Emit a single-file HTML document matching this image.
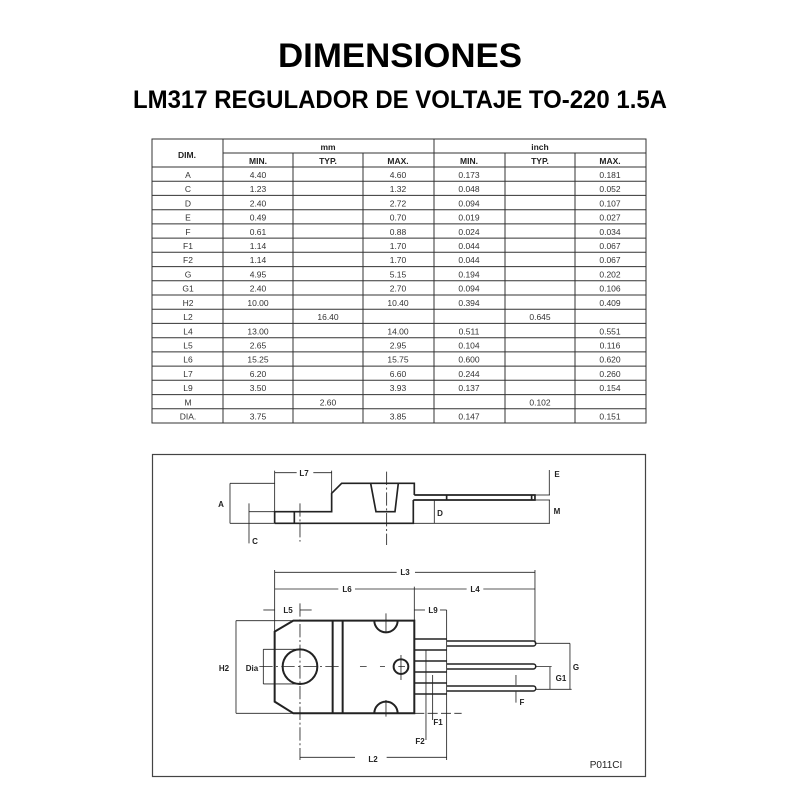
<!DOCTYPE html>
<html><head><meta charset="utf-8"><style>
html,body{margin:0;padding:0;background:#fff;}
svg{display:block;}
text{font-family:"Liberation Sans",Arial,sans-serif;}
</style></head><body>
<svg width="800" height="800" viewBox="0 0 800 800" xmlns="http://www.w3.org/2000/svg">
<rect width="800" height="800" fill="#fff"/>
<text x="400" y="67" text-anchor="middle" font-size="34" font-weight="bold" textLength="244" lengthAdjust="spacingAndGlyphs">DIMENSIONES</text>
<text x="400" y="108" text-anchor="middle" font-size="25" font-weight="bold" textLength="534" lengthAdjust="spacingAndGlyphs">LM317 REGULADOR DE VOLTAJE TO-220 1.5A</text>

<!-- table -->
<g stroke="#333" stroke-width="1" fill="none">
<rect x="152" y="139" width="494" height="284"/>
<line x1="223" y1="139" x2="223" y2="423"/>
<line x1="434" y1="139" x2="434" y2="423"/>
<line x1="293" y1="153" x2="293" y2="423"/>
<line x1="363" y1="153" x2="363" y2="423"/>
<line x1="505" y1="153" x2="505" y2="423"/>
<line x1="575" y1="153" x2="575" y2="423"/>
<line x1="223" y1="153" x2="646" y2="153"/>
<line x1="152" y1="167" x2="646" y2="167"/>
<line x1="152" y1="181.2" x2="646" y2="181.2"/><line x1="152" y1="195.4" x2="646" y2="195.4"/><line x1="152" y1="209.7" x2="646" y2="209.7"/><line x1="152" y1="223.9" x2="646" y2="223.9"/><line x1="152" y1="238.1" x2="646" y2="238.1"/><line x1="152" y1="252.3" x2="646" y2="252.3"/><line x1="152" y1="266.6" x2="646" y2="266.6"/><line x1="152" y1="280.8" x2="646" y2="280.8"/><line x1="152" y1="295" x2="646" y2="295"/><line x1="152" y1="309.2" x2="646" y2="309.2"/><line x1="152" y1="323.4" x2="646" y2="323.4"/><line x1="152" y1="337.7" x2="646" y2="337.7"/><line x1="152" y1="351.9" x2="646" y2="351.9"/><line x1="152" y1="366.1" x2="646" y2="366.1"/><line x1="152" y1="380.3" x2="646" y2="380.3"/><line x1="152" y1="394.6" x2="646" y2="394.6"/><line x1="152" y1="408.8" x2="646" y2="408.8"/>
</g>
<g font-size="8.5" fill="#222" text-anchor="middle">
<text x="187" y="158" font-weight="bold">DIM.</text>
<text x="328" y="150" font-weight="bold">mm</text>
<text x="540" y="150" font-weight="bold">inch</text>
<text x="258" y="164" font-weight="bold">MIN.</text><text x="328" y="164" font-weight="bold">TYP.</text><text x="398" y="164" font-weight="bold">MAX.</text>
<text x="469" y="164" font-weight="bold">MIN.</text><text x="540" y="164" font-weight="bold">TYP.</text><text x="610" y="164" font-weight="bold">MAX.</text>
</g>
<g font-size="8.5" fill="#333" text-anchor="middle">
<text y="178"><tspan x="188">A</tspan><tspan x="258">4.40</tspan><tspan x="398">4.60</tspan><tspan x="469">0.173</tspan><tspan x="610">0.181</tspan></text>
<text y="192.2"><tspan x="188">C</tspan><tspan x="258">1.23</tspan><tspan x="398">1.32</tspan><tspan x="469">0.048</tspan><tspan x="610">0.052</tspan></text>
<text y="206.4"><tspan x="188">D</tspan><tspan x="258">2.40</tspan><tspan x="398">2.72</tspan><tspan x="469">0.094</tspan><tspan x="610">0.107</tspan></text>
<text y="220.6"><tspan x="188">E</tspan><tspan x="258">0.49</tspan><tspan x="398">0.70</tspan><tspan x="469">0.019</tspan><tspan x="610">0.027</tspan></text>
<text y="234.8"><tspan x="188">F</tspan><tspan x="258">0.61</tspan><tspan x="398">0.88</tspan><tspan x="469">0.024</tspan><tspan x="610">0.034</tspan></text>
<text y="249"><tspan x="188">F1</tspan><tspan x="258">1.14</tspan><tspan x="398">1.70</tspan><tspan x="469">0.044</tspan><tspan x="610">0.067</tspan></text>
<text y="263.2"><tspan x="188">F2</tspan><tspan x="258">1.14</tspan><tspan x="398">1.70</tspan><tspan x="469">0.044</tspan><tspan x="610">0.067</tspan></text>
<text y="277.4"><tspan x="188">G</tspan><tspan x="258">4.95</tspan><tspan x="398">5.15</tspan><tspan x="469">0.194</tspan><tspan x="610">0.202</tspan></text>
<text y="291.6"><tspan x="188">G1</tspan><tspan x="258">2.40</tspan><tspan x="398">2.70</tspan><tspan x="469">0.094</tspan><tspan x="610">0.106</tspan></text>
<text y="305.8"><tspan x="188">H2</tspan><tspan x="258">10.00</tspan><tspan x="398">10.40</tspan><tspan x="469">0.394</tspan><tspan x="610">0.409</tspan></text>
<text y="320"><tspan x="188">L2</tspan><tspan x="328">16.40</tspan><tspan x="540">0.645</tspan></text>
<text y="334.3"><tspan x="188">L4</tspan><tspan x="258">13.00</tspan><tspan x="398">14.00</tspan><tspan x="469">0.511</tspan><tspan x="610">0.551</tspan></text>
<text y="348.5"><tspan x="188">L5</tspan><tspan x="258">2.65</tspan><tspan x="398">2.95</tspan><tspan x="469">0.104</tspan><tspan x="610">0.116</tspan></text>
<text y="362.7"><tspan x="188">L6</tspan><tspan x="258">15.25</tspan><tspan x="398">15.75</tspan><tspan x="469">0.600</tspan><tspan x="610">0.620</tspan></text>
<text y="376.9"><tspan x="188">L7</tspan><tspan x="258">6.20</tspan><tspan x="398">6.60</tspan><tspan x="469">0.244</tspan><tspan x="610">0.260</tspan></text>
<text y="391.1"><tspan x="188">L9</tspan><tspan x="258">3.50</tspan><tspan x="398">3.93</tspan><tspan x="469">0.137</tspan><tspan x="610">0.154</tspan></text>
<text y="405.3"><tspan x="188">M</tspan><tspan x="328">2.60</tspan><tspan x="540">0.102</tspan></text>
<text y="419.6"><tspan x="188">DIA.</tspan><tspan x="258">3.75</tspan><tspan x="398">3.85</tspan><tspan x="469">0.147</tspan><tspan x="610">0.151</tspan></text>
</g>

<!-- drawing -->
<rect x="152.5" y="454.5" width="493" height="322" fill="none" stroke="#444" stroke-width="1.2"/>
<g transform="translate(150,450) scale(0.3333)" fill="none" stroke="#222">
 <!-- top view -->
 <g stroke-width="5">
  <path d="M374 220 L374 185 L545 185 L545 130 L575 100 L793 100 L793 135 M790 150 L790 220 L374 220"/>
  <path d="M662 100 L678 185 L735 185 L745 100"/>
  <line x1="433" y1="185" x2="433" y2="220"/>
  <path d="M793 135 L1155 135 L1155 150 L790 150"/>
  <line x1="1145" y1="135" x2="1145" y2="150"/>
  <line x1="890" y1="135" x2="890" y2="150"/>
 </g>
 <g stroke-width="2.5">
  <line x1="240" y1="100" x2="374" y2="100"/>
  <line x1="240" y1="220" x2="374" y2="220"/>
  <line x1="790" y1="220" x2="1200" y2="220"/>
  <line x1="1155" y1="135" x2="1200" y2="135"/>
  <line x1="1155" y1="150" x2="1200" y2="150"/>
  <line x1="240" y1="100" x2="240" y2="220"/>
  <line x1="297" y1="160" x2="297" y2="280"/>
  <line x1="297" y1="185" x2="374" y2="185"/>
  <line x1="853" y1="150" x2="853" y2="220"/>
  <line x1="1198" y1="150" x2="1198" y2="220"/>
  <line x1="1198" y1="60" x2="1198" y2="135"/>
  <line x1="374" y1="62" x2="374" y2="185"/>
  <line x1="545" y1="62" x2="545" y2="130"/>
  <line x1="374" y1="68" x2="440" y2="68"/><line x1="490" y1="68" x2="545" y2="68"/>
  <line x1="450" y1="160" x2="450" y2="275" stroke-dasharray="40 8 6 8"/>
  <line x1="710" y1="65" x2="710" y2="285" stroke-dasharray="40 8 6 8"/>
 </g>
 <!-- bottom view -->
 <g stroke-width="6">
  <path d="M374 545 L430 512 L793 512 L793 790 L430 790 L374 755 Z"/>
  <line x1="548" y1="512" x2="548" y2="790"/>
  <line x1="578" y1="512" x2="578" y2="790"/>
  <path d="M673 512 A35 35 0 0 0 743 512"/>
  <path d="M673 790 A35 35 0 0 1 743 790"/>
  <circle cx="450" cy="650" r="52"/>
  <circle cx="753" cy="650" r="22"/>
 </g>
 <g stroke-width="4.5">
  <path d="M793 567 L890 567 M793 600 L890 600 M890 573 L1150 573 A7.5 7.5 0 0 1 1150 588 L890 588"/>
  <path d="M793 633 L890 633 M793 666 L890 666 M890 642 L1150 642 A7.5 7.5 0 0 1 1150 657 L890 657"/>
  <path d="M793 699 L890 699 M793 732 L890 732 M890 708 L1150 708 A7.5 7.5 0 0 1 1150 723 L890 723"/>
 </g>
 <g stroke-width="2.5">
  <line x1="374" y1="367" x2="740" y2="367"/><line x1="795" y1="367" x2="1155" y2="367"/>
  <line x1="374" y1="417" x2="565" y2="417"/><line x1="615" y1="417" x2="793" y2="417"/>
  <line x1="793" y1="417" x2="950" y2="417"/><line x1="1000" y1="417" x2="1155" y2="417"/>
  <line x1="374" y1="360" x2="374" y2="545"/>
  <line x1="793" y1="410" x2="793" y2="512"/>
  <line x1="1155" y1="360" x2="1155" y2="580"/>
  <line x1="1155" y1="580" x2="1260" y2="580"/>
  <line x1="1155" y1="718" x2="1265" y2="718"/>
  <line x1="1155" y1="650" x2="1205" y2="650"/>
  <line x1="1260" y1="580" x2="1260" y2="718"/>
  <line x1="1200" y1="650" x2="1200" y2="718"/>
  <line x1="340" y1="480" x2="374" y2="480"/><line x1="450" y1="480" x2="485" y2="480"/>
  <line x1="450" y1="460" x2="450" y2="930" stroke-dasharray="40 8 6 8"/>
  <line x1="793" y1="480" x2="825" y2="480"/><line x1="870" y1="480" x2="890" y2="480"/>
  <line x1="890" y1="480" x2="890" y2="930"/>
  <line x1="258" y1="512" x2="430" y2="512"/>
  <line x1="258" y1="790" x2="430" y2="790"/>
  <line x1="258" y1="512" x2="258" y2="790"/>
  <line x1="340" y1="598" x2="450" y2="598"/><line x1="340" y1="702" x2="450" y2="702"/>
  <line x1="340" y1="598" x2="340" y2="702"/>
  <line x1="328" y1="650" x2="580" y2="650" stroke-dasharray="40 10 6 10"/>
  <line x1="630" y1="650" x2="790" y2="650" stroke-dasharray="20 40 15 40"/>
  <line x1="708" y1="490" x2="708" y2="545"/><line x1="708" y1="750" x2="708" y2="800"/>
  <line x1="753" y1="615" x2="753" y2="690"/>
  <line x1="828" y1="600" x2="828" y2="870"/>
  <line x1="848" y1="675" x2="848" y2="810"/>
  <line x1="793" y1="790" x2="935" y2="790" stroke-dasharray="30 10"/>
  <line x1="1098" y1="675" x2="1098" y2="705"/><line x1="1098" y1="725" x2="1098" y2="758"/>
  <line x1="450" y1="922" x2="615" y2="922"/><line x1="710" y1="922" x2="890" y2="922"/>
 </g>
</g>
<g font-size="8" font-weight="bold" fill="#222" text-anchor="middle">
 <text x="304" y="476">L7</text>
 <text x="221" y="507">A</text>
 <text x="255" y="544">C</text>
 <text x="440" y="516">D</text>
 <text x="557" y="477">E</text>
 <text x="557" y="514">M</text>
 <text x="405" y="575">L3</text>
 <text x="347" y="592">L6</text>
 <text x="475" y="592">L4</text>
 <text x="288" y="613">L5</text>
 <text x="433" y="613">L9</text>
 <text x="224" y="671">H2</text>
 <text x="252" y="671">Dia</text>
 <text x="576" y="670">G</text>
 <text x="561" y="681">G1</text>
 <text x="522" y="705">F</text>
 <text x="438" y="725">F1</text>
 <text x="420" y="744">F2</text>
 <text x="373" y="762">L2</text>
</g>
<text x="606" y="768" font-size="10" text-anchor="middle" fill="#222">P011CI</text>
</svg>
</body></html>
